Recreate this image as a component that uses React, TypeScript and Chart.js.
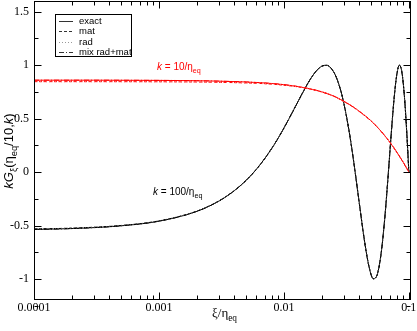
import React, { useEffect, useRef } from "react";
import { Chart, registerables } from "chart.js";

Chart.register(...registerables);

// xi / eta_eq sample positions
const xiBlack = [0.0001, 0.0002, 0.0005, 0.001, 0.002, 0.003, 0.004, 0.005, 0.006, 0.007, 0.008, 0.009, 0.01, 0.012, 0.014, 0.016, 0.018, 0.02, 0.022, 0.024, 0.026, 0.028, 0.03, 0.033, 0.036, 0.04, 0.044, 0.048, 0.052, 0.056, 0.06, 0.064, 0.068, 0.072, 0.076, 0.08, 0.084, 0.088, 0.092, 0.096, 0.1];
// k = 100/eta_eq
const exact100 = [-0.535, -0.527, -0.501, -0.458, -0.367, -0.272, -0.174, -0.075, 0.025, 0.125, 0.223, 0.319, 0.412, 0.585, 0.734, 0.855, 0.941, 0.989, 0.999, 0.968, 0.899, 0.794, 0.657, 0.405, 0.117, -0.279, -0.631, -0.884, -0.996, -0.952, -0.757, -0.443, -0.058, 0.335, 0.676, 0.909, 1.0, 0.932, 0.717, 0.389, 0.0];
const approx100 = [-0.53, -0.523, -0.498, -0.455, -0.365, -0.27, -0.173, -0.075, 0.025, 0.125, 0.223, 0.319, 0.412, 0.585, 0.734, 0.855, 0.941, 0.989, 0.999, 0.968, 0.899, 0.794, 0.657, 0.405, 0.117, -0.279, -0.631, -0.884, -0.996, -0.952, -0.757, -0.443, -0.058, 0.335, 0.676, 0.909, 1.0, 0.932, 0.717, 0.389, 0.0];

const xiRed = [0.0001, 0.0003, 0.001, 0.002, 0.003, 0.005, 0.007, 0.01, 0.013, 0.016, 0.02, 0.025, 0.03, 0.035, 0.04, 0.045, 0.05, 0.055, 0.06, 0.065, 0.07, 0.075, 0.08, 0.085, 0.09, 0.095, 0.1];
// k = 10/eta_eq
const exact10 = [0.86, 0.86, 0.858, 0.855, 0.851, 0.843, 0.834, 0.818, 0.8, 0.78, 0.752, 0.712, 0.664, 0.618, 0.57, 0.524, 0.478, 0.43, 0.382, 0.333, 0.284, 0.236, 0.187, 0.14, 0.094, 0.047, 0.0];
const mat10 = [0.846, 0.846, 0.845, 0.843, 0.84, 0.834, 0.827, 0.813, 0.797, 0.778, 0.75, 0.71, 0.662, 0.616, 0.568, 0.522, 0.477, 0.429, 0.381, 0.332, 0.284, 0.236, 0.187, 0.14, 0.094, 0.047, 0.0];

const xTickValues = [0.0001, 0.001, 0.01, 0.1];
const xTickLabels = ["0.0001", "0.001", "0.01", "0.1"];
const yTickValues = [-1, -0.5, 0, 0.5, 1, 1.5];
const yTickLabels = ["-1", "-0.5", "0", "0.5", "1", "1.5"];
const yMinorValues = [-1.25, -0.75, -0.25, 0.25, 0.75, 1.25];
const legendLabels = ["exact", "mat", "rad", "mix rad+mat"];

const SERIF = "'Liberation Serif', 'DejaVu Serif', serif";
const SANS = "'Liberation Sans', Arial, sans-serif";

type Seg = { t: string; it?: boolean; sub?: boolean };

function richWidth(ctx: CanvasRenderingContext2D, segs: Seg[], size: number, fam: string) {
  let w = 0;
  for (const s of segs) {
    const fs = s.sub ? size * 0.72 : size;
    ctx.font = `${s.it ? "italic " : ""}${fs}px ${fam}`;
    w += ctx.measureText(s.t).width;
  }
  return w;
}

function drawRich(ctx: CanvasRenderingContext2D, segs: Seg[], x: number, y: number, size: number, fam: string, align: "left" | "center") {
  const w = richWidth(ctx, segs, size, fam);
  let cx = align === "center" ? x - w / 2 : x;
  ctx.textAlign = "left";
  ctx.textBaseline = "alphabetic";
  for (const s of segs) {
    const fs = s.sub ? size * 0.72 : size;
    ctx.font = `${s.it ? "italic " : ""}${fs}px ${fam}`;
    ctx.fillText(s.t, cx, s.sub ? y + size * 0.3 : y);
    cx += ctx.measureText(s.t).width;
  }
}

const dashExact: number[] = [];
const dashMat = [3, 2];
const dashRad = [1, 2];
const dashMix = [5, 2, 1, 2];

const axesPlugin = {
  id: "graceAxes",
  afterDraw(chart: any) {
    const { ctx, chartArea: a, scales } = chart;
    const xs = scales.x;
    const ys = scales.y;
    ctx.save();
    ctx.strokeStyle = "#000";
    ctx.lineWidth = 1;
    ctx.setLineDash([]);
    const L = Math.round(a.left) + 0.5;
    const R = Math.round(a.right) - 0.5;
    const T = Math.round(a.top) + 0.5;
    const B = Math.round(a.bottom) - 0.5;
    ctx.strokeRect(L, T, R - L, B - T);

    const majorLen = 7;
    const minorLen = 4;
    ctx.beginPath();
    // x ticks
    for (const v of xTickValues) {
      const px = Math.round(xs.getPixelForValue(v)) + 0.5;
      ctx.moveTo(px, B); ctx.lineTo(px, B - majorLen);
      ctx.moveTo(px, T); ctx.lineTo(px, T + majorLen);
      for (let m = 2; m <= 9; m++) {
        const mv = v * m;
        if (mv > xs.max) break;
        const mx = Math.round(xs.getPixelForValue(mv)) + 0.5;
        ctx.moveTo(mx, B); ctx.lineTo(mx, B - minorLen);
        ctx.moveTo(mx, T); ctx.lineTo(mx, T + minorLen);
      }
    }
    // y ticks
    for (const v of yTickValues) {
      const py = Math.round(ys.getPixelForValue(v)) + 0.5;
      ctx.moveTo(L, py); ctx.lineTo(L + majorLen, py);
      ctx.moveTo(R, py); ctx.lineTo(R - majorLen, py);
    }
    for (const v of yMinorValues) {
      const py = Math.round(ys.getPixelForValue(v)) + 0.5;
      ctx.moveTo(L, py); ctx.lineTo(L + minorLen, py);
      ctx.moveTo(R, py); ctx.lineTo(R - minorLen, py);
    }
    ctx.stroke();

    // tick labels
    ctx.fillStyle = "#000";
    ctx.font = `12px ${SERIF}`;
    ctx.textAlign = "center";
    ctx.textBaseline = "alphabetic";
    xTickValues.forEach((v, i) => {
      ctx.fillText(xTickLabels[i], xs.getPixelForValue(v), 311);
    });
    ctx.textAlign = "right";
    ctx.textBaseline = "middle";
    yTickValues.forEach((v, i) => {
      ctx.fillText(yTickLabels[i], 29, ys.getPixelForValue(v));
    });

    // x title
    drawRich(ctx, [{ t: "ξ/η" }, { t: "eq", sub: true }], (L + R) / 2 + 2, 317, 13, SERIF, "center");

    // y title
    ctx.save();
    ctx.translate(13, 151);
    ctx.rotate(-Math.PI / 2);
    drawRich(ctx, [
      { t: "kG", it: true }, { t: "ξ", sub: true }, { t: "(η" }, { t: "eq", sub: true },
      { t: "/10," }, { t: "k", it: true }, { t: ")" },
    ], 0, 0, 13, SANS, "center");
    ctx.restore();

    // annotations
    ctx.fillStyle = "#ff0000";
    drawRich(ctx, [{ t: "k", it: true }, { t: " = 10/η" }, { t: "eq", sub: true }], 157, 70, 10, SANS, "left");
    ctx.fillStyle = "#000";
    drawRich(ctx, [{ t: "k", it: true }, { t: " = 100/η" }, { t: "eq", sub: true }], 153, 195, 10, SANS, "left");

    // legend
    const bx = 55.5, by = 14.5, bw = 76, bh = 42;
    ctx.fillStyle = "#fff";
    ctx.fillRect(bx, by, bw, bh);
    ctx.strokeStyle = "#000";
    ctx.setLineDash([]);
    ctx.strokeRect(bx, by, bw, bh);
    const dashes = [dashExact, dashMat, dashRad, dashMix];
    const rowsY = [21.5, 31.5, 42.5, 52.5];
    legendLabels.forEach((lab, i) => {
      ctx.setLineDash(dashes[i]);
      ctx.strokeStyle = i === 2 ? "#999" : "#333";
      ctx.beginPath();
      ctx.moveTo(59, rowsY[i]);
      ctx.lineTo(73, rowsY[i]);
      ctx.stroke();
      ctx.setLineDash([]);
      ctx.fillStyle = "#000";
      ctx.font = `9.5px ${SANS}`;
      ctx.textAlign = "left";
      ctx.textBaseline = "middle";
      ctx.fillText(lab, 79, rowsY[i]);
    });
    ctx.restore();
  },
};

function pts(xv: number[], yv: number[]) {
  return xv.map((x, i) => ({ x, y: yv[i] }));
}

export default function App() {
  const ref = useRef<HTMLCanvasElement | null>(null);
  useEffect(() => {
    if (!ref.current) return;
    const mk = (label: string, xv: number[], yv: number[], color: string, dash: number[]) => ({
      label,
      data: pts(xv, yv),
      borderColor: color,
      backgroundColor: color,
      borderWidth: 1,
      borderDash: dash,
      pointRadius: 0,
      showLine: true,
      fill: false,
      cubicInterpolationMode: "monotone" as const,
    });
    const chart = new Chart(ref.current, {
      type: "scatter",
      data: {
        datasets: [
          mk("rad k=10", xiRed, mat10, "rgba(255,120,120,1)", dashRad),
          mk("mat k=10", xiRed, mat10, "#ff0000", dashMat),
          mk("mix k=10", xiRed, exact10, "#ff0000", dashMix),
          mk("exact k=10", xiRed, exact10, "#ff0000", dashExact),
          mk("rad k=100", xiBlack, approx100, "#555", dashRad),
          mk("mat k=100", xiBlack, approx100, "#000", dashMat),
          mk("mix k=100", xiBlack, exact100, "#000", dashMix),
          mk("exact k=100", xiBlack, exact100, "#000", dashExact),
        ],
      },
      options: {
        animation: false,
        responsive: false,
        devicePixelRatio: 1,
        layout: { padding: { left: 34, top: 1, right: 6, bottom: 31.5 } },
        plugins: { legend: { display: false }, tooltip: { enabled: false } },
        scales: {
          x: { type: "logarithmic", min: 0.0001, max: 0.104, display: false },
          y: { type: "linear", min: -1.19, max: 1.6, display: false },
        },
      },
      plugins: [axesPlugin],
    });
    return () => chart.destroy();
  }, []);
  return (
    <div style={{ position: "absolute", left: 0, top: 0, width: 417, height: 331, background: "#fff" }}>
      <canvas ref={ref} width={417} height={331} style={{ width: 417, height: 331, display: "block" }} />
    </div>
  );
}
